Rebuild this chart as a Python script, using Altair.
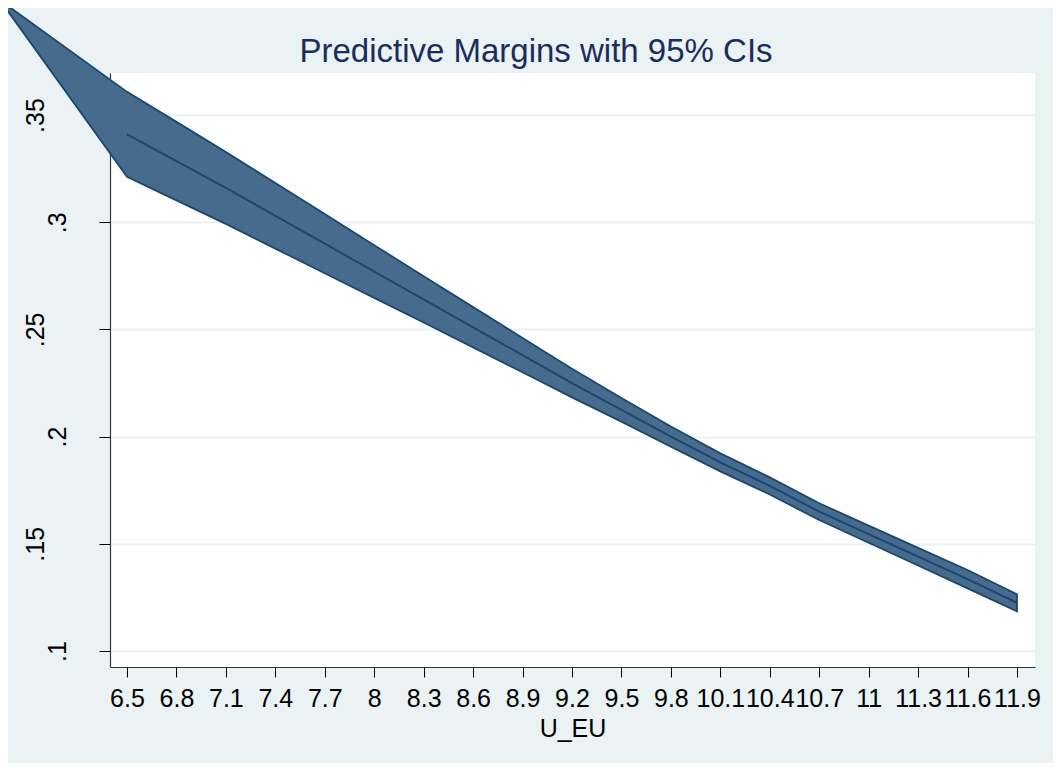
import altair as alt
import pandas as pd

# U_EU values at which margins were computed
u_eu = [6.5, 6.8, 7.1, 7.4, 7.7, 8.0, 8.3, 8.6, 8.9, 9.2, 9.5, 9.8,
        10.1, 10.4, 10.7, 11.0, 11.3, 11.6, 11.9]
margin = [0.341, 0.3285, 0.316, 0.303, 0.290, 0.277, 0.264, 0.251, 0.238,
          0.225, 0.2125, 0.200, 0.188, 0.177, 0.165, 0.1545, 0.144, 0.1335, 0.1225]
ci_upper = [0.3608, 0.3468, 0.3328, 0.3183, 0.3038, 0.2893, 0.2748, 0.2604, 0.2460,
            0.2317, 0.2180, 0.2047, 0.1922, 0.1810, 0.1689, 0.1585, 0.1481, 0.1378, 0.1265]
ci_lower = [0.3212, 0.3102, 0.2992, 0.2877, 0.2762, 0.2647, 0.2532, 0.2416, 0.2300,
            0.2183, 0.2070, 0.1953, 0.1838, 0.1730, 0.1611, 0.1505, 0.1399, 0.1292, 0.1185]

# stray vertex of the CI polygon (drawn outside the plot region in the original)
stray_x = [5.729]
stray_y = [0.4036]

x_ticks = [6.5, 6.8, 7.1, 7.4, 7.7, 8.0, 8.3, 8.6, 8.9, 9.2, 9.5, 9.8,
           10.1, 10.4, 10.7, 11.0, 11.3, 11.6, 11.9]
x_labels = ["6.5", "6.8", "7.1", "7.4", "7.7", "8", "8.3", "8.6", "8.9", "9.2", "9.5", "9.8",
            "10.1", "10.4", "10.7", "11", "11.3", "11.6", "11.9"]
y_ticks = [0.1, 0.15, 0.2, 0.25, 0.3, 0.35]
y_labels = [".1", ".15", ".2", ".25", ".3", ".35"]

title_text = "Predictive Margins with 95% CIs"

band_df = pd.DataFrame({
    "U_EU": stray_x + u_eu,
    "lo": stray_y + ci_lower,
    "hi": stray_y + ci_upper,
})
line_df = pd.DataFrame({"U_EU": u_eu, "margin": margin})
title_df = pd.DataFrame({"t": [title_text]})


def label_expr(values, labels):
    vals = ",".join(repr(v) for v in values)
    labs = ",".join("'" + l + "'" for l in labels)
    return f"[{labs}][indexof([{vals}], datum.value)]"


long_vals = ",".join(repr(v) for v, l in zip(y_ticks, y_labels) if len(l) > 2)

FONT = "Liberation Sans"
NAVY = "#1A476F"

x_scale = alt.Scale(domain=[6.3969, 12.0092], nice=False, zero=False)
y_scale = alt.Scale(domain=[0.09254, 0.3696], nice=False, zero=False)

x_axis = alt.Axis(
    values=x_ticks, labelExpr=label_expr(x_ticks, x_labels), title="U_EU",
    grid=False, tickSize=10, tickColor="#000000", tickWidth=1,
    domainColor="#333333", domainWidth=1.2,
    labelFont=FONT, labelFontSize=25, labelColor="#000000", labelPadding=9,
    labelOverlap=False, labelFlush=False, labelBound=False,
    titleFont=FONT, titleFontSize=25, titleFontWeight="normal", titleColor="#000000",
    titlePadding=5,
)
y_axis = alt.Axis(
    values=y_ticks, labelExpr=label_expr(y_ticks, y_labels), title=None,
    grid=True, gridColor="#EAF2F3", gridWidth=2,
    tickSize=11, tickColor="#000000", tickWidth=1,
    domainColor="#333333", domainWidth=1.2,
    labelFont=FONT, labelFontSize=25, labelColor="#000000",
    labelAngle=270, labelAlign="center", labelBaseline="alphabetic",
    labelPadding={"condition": {"test": f"indexof([{long_vals}], datum.value) >= 0", "value": 56},
                  "value": 34},
    labelOverlap=False, labelFlush=False, labelBound=False,
)

band = alt.Chart(band_df).mark_area(
    color="#476B8D", stroke=NAVY, strokeWidth=1.8, opacity=1
).encode(
    x=alt.X("U_EU:Q", scale=x_scale, axis=x_axis),
    y=alt.Y("lo:Q", scale=y_scale, axis=y_axis),
    y2="hi:Q",
)

line = alt.Chart(line_df).mark_line(color=NAVY, strokeWidth=2).encode(
    x=alt.X("U_EU:Q", scale=x_scale),
    y=alt.Y("margin:Q", scale=y_scale),
)

title = alt.Chart(title_df).mark_text(
    font=FONT, fontSize=33, color="#1C2D5C", align="center", baseline="alphabetic"
).encode(
    text="t:N",
    x=alt.value(426),
    y=alt.value(-11),
)

chart = alt.layer(band, line, title).properties(
    width=925,
    height=594,
    autosize=alt.AutoSizeParams(type="none"),
    padding={"left": 102, "top": 65, "right": 18, "bottom": 96},
    background="#EAF2F3",
).configure_view(fill="#FFFFFF", stroke=None)

chart.save("out.html", embed_options={"renderer": "svg", "actions": False})
